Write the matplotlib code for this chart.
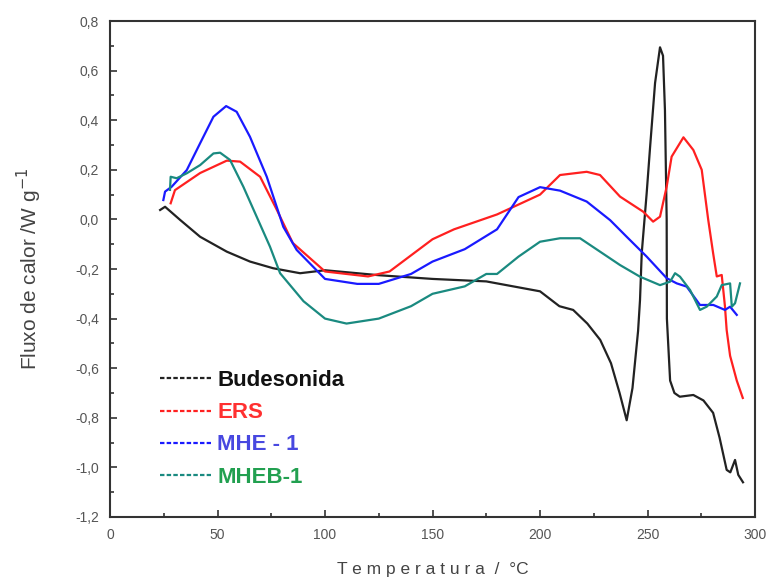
import matplotlib

matplotlib.use("Agg")
import matplotlib.pyplot as plt
from matplotlib.lines import Line2D
from matplotlib.ticker import MultipleLocator, FuncFormatter

plt.rcParams["font.family"] = ["Liberation Sans", "DejaVu Sans"]

# Budesonida
bud_t = [23.3, 25.6, 32.6, 41.9, 54.3, 65.1, 75.9, 88.4, 100, 125, 150, 175, 200, 209, 215.4,
         222, 228, 233, 237, 240.3, 243, 245.6, 246.5, 247.3, 249.6, 251.2, 253.5, 255.8,
         257.2, 258.1, 258.9, 259.0, 260.5, 262.5, 265, 271.3, 276, 280.5, 283.5, 286.8,
         288.5, 290.7, 292.2, 294.4]
bud_y = [0.038, 0.051, -0.002, -0.07, -0.13, -0.17, -0.197, -0.217, -0.205, -0.225, -0.24,
         -0.25, -0.29, -0.35, -0.365, -0.42, -0.486, -0.58, -0.70, -0.81, -0.68, -0.45,
         -0.325, -0.136, 0.106, 0.293, 0.55, 0.694, 0.66, 0.44, 0.0, -0.4, -0.65, -0.70,
         -0.715, -0.708, -0.73, -0.78, -0.88, -1.01, -1.02, -0.97, -1.03, -1.06]

# ERS
ers_t = [28.2, 30.2, 41.9, 54.3, 60.5, 69.8, 77.5, 85, 100, 120, 130, 150, 160, 180, 200,
         209.3, 221.7, 227.9, 237.2, 248, 252.6, 255.8, 258.9, 261.2, 266.7, 271.3, 275.2,
         278.2, 280.5, 282.2, 284.5, 286, 286.8, 288.4, 291.5, 294.3]
ers_y = [0.065, 0.118, 0.187, 0.237, 0.233, 0.172, 0.04, -0.095, -0.21, -0.23, -0.21, -0.08,
         -0.04, 0.02, 0.10, 0.179, 0.192, 0.179, 0.092, 0.031, -0.009, 0.011, 0.132, 0.253,
         0.331, 0.28, 0.2, 0.0, -0.136, -0.23, -0.224, -0.35, -0.446, -0.55, -0.65, -0.72]

# MHE - 1
mhe_t = [24.8, 25.6, 28.7, 35.7, 41.9, 48.1, 54.0, 58.9, 65.1, 72.9, 80.6, 86.8, 100, 115,
         125, 140, 150, 165, 180, 190, 200, 209.3, 221.7, 232.6, 240.3, 249.6, 258.9, 263.6,
         268.2, 274.4, 280.6, 286, 288.4, 291.5]
mhe_y = [0.078, 0.112, 0.132, 0.199, 0.307, 0.414, 0.457, 0.434, 0.333, 0.172, -0.03, -0.123,
         -0.24, -0.26, -0.26, -0.22, -0.17, -0.12, -0.04, 0.09, 0.13, 0.116, 0.072, -0.003,
         -0.07, -0.15, -0.237, -0.258, -0.271, -0.345, -0.345, -0.365, -0.352, -0.385]

# MHEB-1
mheb_t = [27.9, 28.2, 31.0, 35.7, 41.9, 48.1, 51.2, 55.8, 62.0, 68.2, 74.4, 79.1, 90, 100,
          110, 125, 140, 150, 165, 175, 180, 190, 200, 209.3, 218.6, 227.9, 237.2, 246.5,
          255.8, 260.5, 262.8, 265.1, 269.8, 274.4, 277.5, 282.2, 284.5, 288.4, 289.2, 290.7,
          293.0]
mheb_y = [0.119, 0.172, 0.166, 0.186, 0.219, 0.266, 0.269, 0.24, 0.132, 0.011, -0.11, -0.217,
          -0.33, -0.40, -0.42, -0.40, -0.35, -0.30, -0.27, -0.22, -0.22, -0.15, -0.09, -0.076,
          -0.076, -0.13, -0.184, -0.231, -0.265, -0.251, -0.217, -0.231, -0.285, -0.365,
          -0.352, -0.311, -0.265, -0.258, -0.352, -0.338, -0.258]

SERIES = [
    ("Budesonida", bud_t, bud_y, "#222222", "#111111"),
    ("ERS", ers_t, ers_y, "#ff2020", "#ff3030"),
    ("MHE - 1", mhe_t, mhe_y, "#1a1aff", "#4848e0"),
    ("MHEB-1", mheb_t, mheb_y, "#1a8a80", "#22a050"),
]

fig = plt.figure(figsize=(7.71, 5.79), dpi=100)
ax = fig.add_axes([0.1427, 0.1071, 0.8366, 0.8566])

handles = []
for label, t, y, color, text_color in SERIES:
    ax.plot(t, y, color=color, linewidth=1.6)
    handles.append(Line2D([], [], color=color, linewidth=1.6, linestyle=(0, (2, 1))))

ax.set_xlim(0, 300)
ax.set_ylim(-1.2, 0.8)
ax.xaxis.set_major_locator(MultipleLocator(50))
ax.xaxis.set_minor_locator(MultipleLocator(25))
ax.yaxis.set_major_locator(MultipleLocator(0.2))
ax.yaxis.set_minor_locator(MultipleLocator(0.1))
ax.yaxis.set_major_formatter(FuncFormatter(lambda v, p: f"{v:.1f}".replace(".", ",")))
ax.tick_params(which="both", direction="in", top=False, right=False,
               labelsize=10, labelcolor="#555555", color="#333333", width=1.2)
ax.tick_params(which="major", length=5, pad=8)
ax.tick_params(which="minor", length=3)
for s in ax.spines.values():
    s.set_linewidth(1.5)
    s.set_color("#333333")

ax.set_xlabel("T e m p e r a t u r a  /  °C", fontsize=12.5, color="#444444", labelpad=14)
ax.set_ylabel("Fluxo de calor /W g$^{-1}$", fontsize=15, color="#444444", labelpad=22)

leg = ax.legend(handles, [s[0] for s in SERIES], loc="lower left",
                bbox_to_anchor=(0.047, 0.019), frameon=False, handlelength=2.3,
                handletextpad=0.25, labelspacing=0.5,
                prop={"size": 16, "weight": "bold"})
for txt, s in zip(leg.get_texts(), SERIES):
    txt.set_color(s[4])

fig.savefig("out.png", dpi=100)
